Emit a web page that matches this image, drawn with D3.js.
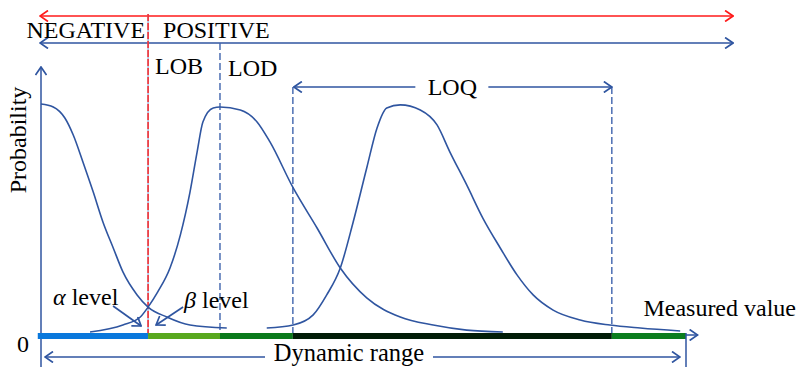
<!DOCTYPE html>
<html>
<head>
<meta charset="utf-8">
<script src="https://cdn.jsdelivr.net/npm/d3@7"></script>
<style>
  body { margin: 0; background: #fff; }
</style>
</head>
<body>
<div id="chart"></div>
<script>

// blank sample distribution (only the right half is shown)
let blankX = [0, 1.9, 3.7, 5.0, 6.5, 8.1, 9.6, 11.2, 12.7, 14.9, 16.6, 19.5, 23.1, 28.8],
    blankP = [1.0, 0.987, 0.939, 0.865, 0.748, 0.617, 0.487, 0.374, 0.27, 0.17, 0.117, 0.074, 0.039, 0.026];

// low concentration sample, centred on LOD
let lowX = [7.6, 12.7, 15.4, 16.6, 18.1, 20.0, 21.6, 23.1, 24.2, 25.1, 26.7, 27.75, 30.9, 33.5, 35.5, 39.1, 42.8, 46.4, 50.5, 55.7, 60.8, 66.0, 71.6],
    lowP = [0.009, 0.039, 0.074, 0.117, 0.183, 0.287, 0.43, 0.617, 0.791, 0.922, 0.983, 0.987, 0.974, 0.922, 0.835, 0.635, 0.461, 0.287, 0.157, 0.074, 0.039, 0.017, 0.009];

// sample inside the quantitation range
let quantX = [35.0, 39.1, 42.2, 44.3, 46.4, 48.4, 50.5, 52.1, 53.6, 55.7, 58.8, 61.4, 63.4, 66.0, 68.5, 71.2, 73.8, 76.3, 79.4, 83.6, 88.2, 92.9, 99.1],
    quantP = [0.026, 0.039, 0.083, 0.17, 0.287, 0.487, 0.722, 0.896, 0.983, 0.996, 0.974, 0.909, 0.791, 0.648, 0.504, 0.374, 0.257, 0.17, 0.104, 0.061, 0.039, 0.026, 0.013];

// limits along the measured value axis
let limitNames = ["LOB", "LOD", "LOQ", "LOQ"],
    limitValues = [16.6, 27.75, 39.05, 88.5];

// coloured segments of the measured value bar
let segStart = [-0.5, 16.6, 27.75, 39.05, 88.5],
    segEnd = [16.6, 27.75, 39.05, 88.5, 100],
    segColor = ["#0a78dc", "#58a81e", "#0b7a1c", "#011d07", "#0b7d1e"];

let rangeMax = 100;

let width = 796,
    height = 367;

let blue = "#2f55a0",
    dashBlue = "#3f64ad",
    red = "#ff1a1a",
    serif = "'Liberation Serif', 'DejaVu Serif', serif",
    fs = 24;

let svg = d3.select("#chart").append("svg")
    .attr("width", width)
    .attr("height", height)
    .attr("font-family", serif);

let xScale = d3.scaleLinear()
    .domain([0, 100])
    .range([41, 686]);

let yScale = d3.scaleLinear()
    .domain([0, 1])
    .range([334, 104]);

// arrow heads (open chevrons)
let defs = svg.append("defs");
[["arrowBlue", blue], ["arrowRed", red]].forEach(([id, col]) => {
    defs.append("marker")
        .attr("id", id)
        .attr("viewBox", "0 -6 10 12")
        .attr("refX", 9)
        .attr("refY", 0)
        .attr("markerWidth", 10)
        .attr("markerHeight", 12)
        .attr("markerUnits", "userSpaceOnUse")
        .attr("orient", "auto-start-reverse")
        .append("path")
        .attr("d", "M1,-5.5L9,0L1,5.5")
        .attr("fill", "none")
        .attr("stroke", col)
        .attr("stroke-width", 1.7);
});

let x0 = xScale(0),
    xEnd = xScale(rangeMax),
    yBar = yScale(0) + 2;

// top arrows: negative / positive
let topLeft = x0 - 1,
    topRight = xScale(107.3);
svg.append("line")
    .attr("x1", topLeft).attr("x2", topRight)
    .attr("y1", 16).attr("y2", 16)
    .attr("stroke", red).attr("stroke-width", 1.6)
    .attr("marker-start", "url(#arrowRed)")
    .attr("marker-end", "url(#arrowRed)");
svg.append("line")
    .attr("x1", topLeft).attr("x2", topRight)
    .attr("y1", 43).attr("y2", 43)
    .attr("stroke", blue).attr("stroke-width", 1.6)
    .attr("marker-start", "url(#arrowBlue)")
    .attr("marker-end", "url(#arrowBlue)");

let xLOB = xScale(limitValues[0]),
    xLOD = xScale(limitValues[1]),
    xQ1 = xScale(limitValues[2]),
    xQ2 = xScale(limitValues[3]);

svg.append("text")
    .attr("x", xLOB - 3).attr("y", 38)
    .attr("text-anchor", "end")
    .attr("font-size", fs)
    .text("NEGATIVE");
svg.append("text")
    .attr("x", xLOB + 15).attr("y", 38)
    .attr("font-size", fs)
    .text("POSITIVE");

// limit lines
svg.append("line")
    .attr("x1", xLOB).attr("x2", xLOB)
    .attr("y1", 14).attr("y2", yBar)
    .attr("stroke", "#9fb3d9").attr("stroke-width", 1.4);
svg.append("line")
    .attr("x1", xLOB).attr("x2", xLOB)
    .attr("y1", 14).attr("y2", yBar)
    .attr("stroke", red).attr("stroke-width", 1.4)
    .attr("stroke-dasharray", "7,2");
svg.append("line")
    .attr("x1", xLOD).attr("x2", xLOD)
    .attr("y1", 43).attr("y2", yBar)
    .attr("stroke", dashBlue).attr("stroke-width", 1.4)
    .attr("stroke-dasharray", "7,3");
[xQ1, xQ2].forEach(xq => {
    svg.append("line")
        .attr("x1", xq).attr("x2", xq)
        .attr("y1", 87).attr("y2", yBar)
        .attr("stroke", dashBlue).attr("stroke-width", 1.4)
        .attr("stroke-dasharray", "7,3");
});

svg.append("text")
    .attr("x", xLOB + 7).attr("y", 74)
    .attr("font-size", fs)
    .text(limitNames[0]);
svg.append("text")
    .attr("x", xLOD + 8).attr("y", 76)
    .attr("font-size", fs)
    .text(limitNames[1]);

// LOQ arrow with the label in a gap
let qMid = (xQ1 + xQ2) / 2;
svg.append("line")
    .attr("x1", xQ1 + 1).attr("x2", qMid - 37)
    .attr("y1", 87).attr("y2", 87)
    .attr("stroke", blue).attr("stroke-width", 1.6)
    .attr("marker-start", "url(#arrowBlue)");
svg.append("line")
    .attr("x1", qMid + 36).attr("x2", xQ2)
    .attr("y1", 87).attr("y2", 87)
    .attr("stroke", blue).attr("stroke-width", 1.6)
    .attr("marker-end", "url(#arrowBlue)");
svg.append("text")
    .attr("x", qMid).attr("y", 95)
    .attr("text-anchor", "middle")
    .attr("font-size", fs)
    .text(limitNames[2]);

// y axis
svg.append("line")
    .attr("x1", x0).attr("x2", x0)
    .attr("y1", height).attr("y2", 67)
    .attr("stroke", blue).attr("stroke-width", 1.5)
    .attr("marker-end", "url(#arrowBlue)");
svg.append("text")
    .attr("transform", `translate(26,140) rotate(-90)`)
    .attr("text-anchor", "middle")
    .attr("font-size", fs)
    .text("Probability");

// x axis bar
svg.append("line")
    .attr("x1", xEnd - 5).attr("x2", xScale(101.8))
    .attr("y1", yBar - 1).attr("y2", yBar - 1)
    .attr("stroke", blue).attr("stroke-width", 1.5)
    .attr("marker-end", "url(#arrowBlue)");
svg.selectAll("rect.seg")
    .data(segColor)
    .join("rect")
    .attr("class", "seg")
    .attr("x", (d, i) => xScale(segStart[i]))
    .attr("width", (d, i) => xScale(segEnd[i]) - xScale(segStart[i]))
    .attr("y", yBar - 3)
    .attr("height", 6)
    .attr("fill", d => d);

svg.append("text")
    .attr("x", 23).attr("y", 352)
    .attr("text-anchor", "middle")
    .attr("font-size", fs)
    .text("0");
svg.append("text")
    .attr("x", 796).attr("y", 316)
    .attr("text-anchor", "end")
    .attr("font-size", fs)
    .text("Measured value");

// dynamic range
svg.append("line")
    .attr("x1", xEnd).attr("x2", xEnd)
    .attr("y1", yBar - 3).attr("y2", height)
    .attr("stroke", blue).attr("stroke-width", 1.5);
svg.append("line")
    .attr("x1", x0 + 4).attr("x2", 265)
    .attr("y1", 357).attr("y2", 357)
    .attr("stroke", blue).attr("stroke-width", 1.6)
    .attr("marker-start", "url(#arrowBlue)");
svg.append("line")
    .attr("x1", 433).attr("x2", xEnd - 6)
    .attr("y1", 357).attr("y2", 357)
    .attr("stroke", blue).attr("stroke-width", 1.6)
    .attr("marker-end", "url(#arrowBlue)");
svg.append("text")
    .attr("x", 349).attr("y", 361)
    .attr("text-anchor", "middle")
    .attr("font-size", 24.5)
    .text("Dynamic range");

// distribution curves
let line = d3.line()
    .x(d => xScale(d[0]))
    .y(d => yScale(d[1]))
    .curve(d3.curveMonotoneX);

[[blankX, blankP], [lowX, lowP], [quantX, quantP]].forEach(([xs, ps]) => {
    svg.append("path")
        .datum(d3.zip(xs, ps))
        .attr("d", line)
        .attr("fill", "none")
        .attr("stroke", blue)
        .attr("stroke-width", 1.6);
});

// alpha / beta annotations
let tx = xLOB;
svg.append("text")
    .attr("x", tx - 95).attr("y", 305)
    .attr("font-size", fs)
    .html('<tspan font-style="italic">α</tspan> level');
svg.append("text")
    .attr("x", tx + 36).attr("y", 308)
    .attr("font-size", fs)
    .html('<tspan font-style="italic">β</tspan> level');
svg.append("line")
    .attr("x1", tx - 35).attr("y1", 306)
    .attr("x2", tx - 7).attr("y2", 326)
    .attr("stroke", blue).attr("stroke-width", 1.7)
    .attr("marker-end", "url(#arrowBlue)");
svg.append("line")
    .attr("x1", tx + 35).attr("y1", 307)
    .attr("x2", tx + 8).attr("y2", 325)
    .attr("stroke", blue).attr("stroke-width", 1.7)
    .attr("marker-end", "url(#arrowBlue)");
</script>
</body>
</html>
